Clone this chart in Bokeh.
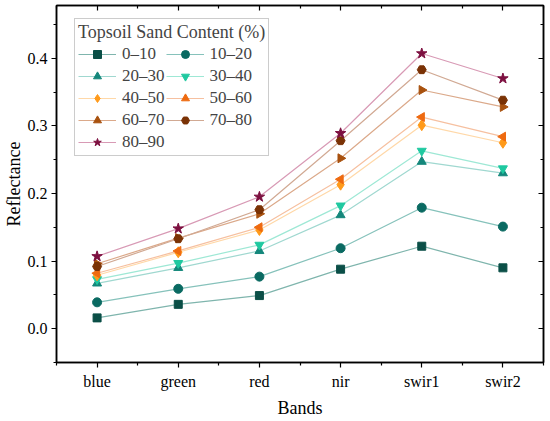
from bokeh.plotting import figure
from bokeh.models import (Range1d, LinearAxis, FixedTicker, Legend, LegendItem,
                          SingleIntervalTicker, PrintfTickFormatter, CustomJSTickFormatter)
from bokeh.embed import file_html
from bokeh.resources import INLINE
import math

bands = ["blue", "green", "red", "nir", "swir1", "swir2"]
labels = ["0\u201310", "10\u201320", "20\u201330", "30\u201340", "40\u201350",
          "50\u201360", "60\u201370", "70\u201380", "80\u201390"]

s0_10 = [0.016, 0.036, 0.049, 0.088, 0.122, 0.090]
s10_20 = [0.039, 0.059, 0.077, 0.119, 0.179, 0.151]
s20_30 = [0.067, 0.090, 0.115, 0.168, 0.247, 0.230]
s30_40 = [0.073, 0.097, 0.124, 0.182, 0.263, 0.237]
s40_50 = [0.079, 0.113, 0.146, 0.213, 0.301, 0.275]
s50_60 = [0.082, 0.115, 0.150, 0.221, 0.313, 0.284]
s60_70 = [0.096, 0.134, 0.170, 0.252, 0.353, 0.328]
s70_80 = [0.092, 0.133, 0.176, 0.278, 0.383, 0.338]
s80_90 = [0.107, 0.148, 0.195, 0.289, 0.407, 0.370]
series = [s0_10, s10_20, s20_30, s30_40, s40_50, s50_60, s60_70, s70_80, s80_90]

marker_colors = ["#0b4f47", "#0a6a62", "#14877b", "#1fc9a0", "#ff9a1a",
                 "#ee6a10", "#a8510e", "#7a3205", "#7d1040"]
line_colors = ["#7fb5ad", "#86c2bb", "#a0d8d0", "#9ee8d5", "#ffd8a8",
               "#f6c0a0", "#dba98a", "#d1a993", "#d89ab5"]
markers = ["square", "circle", "triangle", "inverted_triangle", "diamond",
           "triangle", "triangle", "hex", "star"]
angles = [0, 0, 0, 0, 0, math.pi / 2, -math.pi / 2, 0, 0]
sizes = [8, 9, 9, 9, 11, 9, 9, 9, 11]

FONT = "Liberation Serif"
x = list(range(len(bands)))

p = figure(width=549, height=420, output_backend="svg", toolbar_location=None,
           x_range=Range1d(-0.5, len(bands) - 0.5), y_range=Range1d(-0.05, 0.478),
           min_border_left=54, min_border_right=6, min_border_top=5, min_border_bottom=56)
p.grid.visible = False
p.outline_line_color = "black"
p.outline_line_width = 1.5
p.background_fill_color = "white"
p.border_fill_color = "white"

xt = FixedTicker(ticks=x, minor_ticks=[i - 0.5 for i in range(len(bands) + 1)])
yt = SingleIntervalTicker(interval=0.1, num_minor_ticks=2)

xa = p.xaxis[0]
xa.ticker = xt
xa.major_label_overrides = {i: b for i, b in enumerate(bands)}
xa.axis_label = "Bands"
ya = p.yaxis[0]
ya.ticker = yt
ya.formatter = PrintfTickFormatter(format="%.1f")
ya.axis_label = "Reflectance"

for ax in (xa, ya):
    ax.axis_line_color = "black"
    ax.axis_line_width = 1.5
    ax.major_tick_line_width = 1.2
    ax.minor_tick_line_width = 1.2
    ax.major_tick_out = 5
    ax.major_tick_in = 0
    ax.minor_tick_out = 3
    ax.minor_tick_in = 0
    ax.major_label_text_font = FONT
    ax.major_label_text_font_size = "16px"
    ax.major_label_text_color = "black"
    ax.axis_label_text_font = FONT
    ax.axis_label_text_font_size = "18px"
    ax.axis_label_text_font_style = "normal"
    ax.axis_label_text_color = "black"
xa.major_label_standoff = 5
xa.axis_label_standoff = 5
ya.major_label_standoff = 4
ya.axis_label_standoff = 1

blank = CustomJSTickFormatter(code="return ''")
for loc, tk in (("above", xt), ("right", yt)):
    ax = LinearAxis(ticker=tk, formatter=blank, major_label_text_font_size="1px",
                    major_label_standoff=0, major_tick_in=5, major_tick_out=0,
                    minor_tick_in=3, minor_tick_out=0, axis_line_width=1.5,
                    major_tick_line_width=1.2, minor_tick_line_width=1.2)
    p.add_layout(ax, loc)

items = []
for vals, lab, mc, lc, mk, ang, sz in zip(series, labels, marker_colors, line_colors,
                                          markers, angles, sizes):
    lr = p.line(x, vals, line_color=lc, line_width=1.2)
    sr = p.scatter(x, vals, marker=mk, angle=ang, size=sz, fill_color=mc, line_color=mc)
    items.append(LegendItem(label=lab, renderers=[lr, sr]))

# the legend fills column by column: reorder so that it reads row by row
order = list(range(0, len(items), 2)) + list(range(1, len(items), 2))
legend = Legend(items=[items[i] for i in order], ncols=2, location=(18, 206),
                title="Topsoil Sand Content (%)",
                title_text_font=FONT, title_text_font_size="18px", title_text_font_style="normal",
                title_standoff=0, label_text_font=FONT, label_text_font_size="17px",
                glyph_width=38, glyph_height=20, label_height=21, label_standoff=6,
                spacing=1, padding=3, margin=0, border_line_color="#999999",
                border_line_width=1, background_fill_alpha=1)
p.add_layout(legend, "center")

open("out.html", "w").write(file_html(p, INLINE))
